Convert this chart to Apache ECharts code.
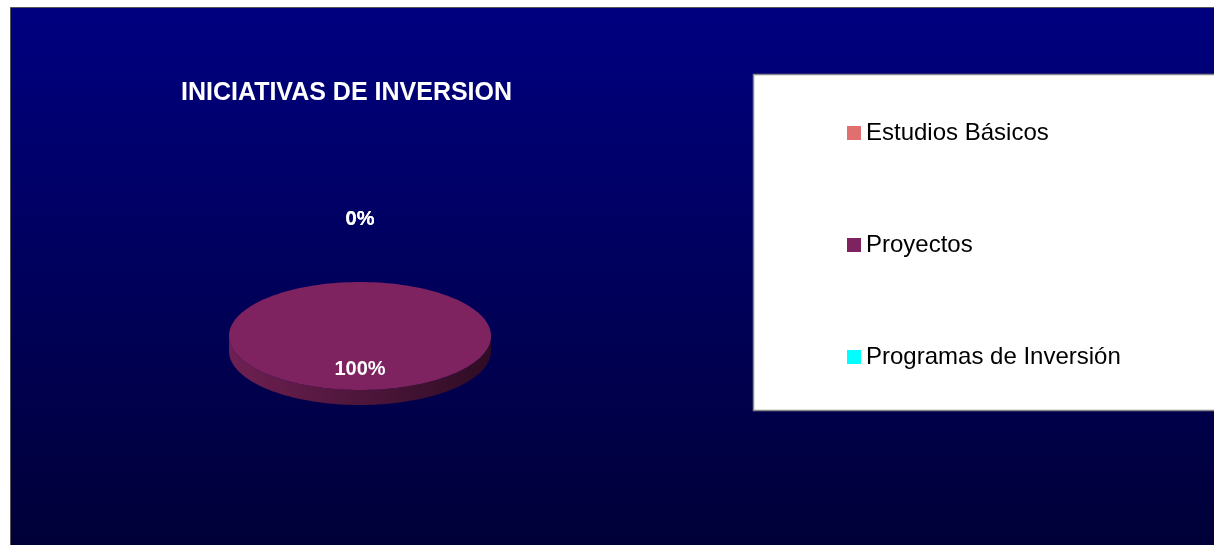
<!DOCTYPE html>
<html>
<head>
<meta charset="utf-8">
<script src="https://cdn.jsdelivr.net/npm/echarts@6/dist/echarts.min.js"></script>
<style>
  html, body { margin: 0; padding: 0; background: #fff; }
  #chart { width: 1214px; height: 545px; }
</style>
</head>
<body>
<div id="chart"></div>
<script>
// datos del gráfico
const categories = ['Estudios Básicos', 'Proyectos', 'Programas de Inversión'];
const values = [0, 100, 0];
const colors = ['#e07070', '#7f2360', '#00ffff'];
const sideColors = [
  ['#b05050', '#602020'],
  ['#6e2052', '#2e0c24'],
  ['#00c0c0', '#006060']
];

// geometría del pastel 3D
const cx = 360, cy = 336, rx = 131, ry = 54, depth = 15;

const total = values.reduce((a, b) => a + b, 0);

function pt(a, dy) {
  return [cx + rx * Math.sin(a), cy - ry * Math.cos(a) + (dy || 0)];
}

function arc(s, e, dy) {
  const pts = [];
  const n = Math.max(2, Math.ceil((e - s) / (Math.PI / 90)));
  for (let k = 0; k <= n; k++) pts.push(pt(s + (e - s) * k / n, dy));
  return pts;
}

function renderSlice(params, api) {
  const i = params.seriesIndex;
  const v = api.value(0);
  let before = 0;
  for (let j = 0; j < i; j++) before += values[j];
  const start = before / total * Math.PI * 2;
  const end = start + v / total * Math.PI * 2;
  const children = [];

  if (v > 0) {
    // lado frontal
    const s = Math.max(start, Math.PI / 2);
    const e = Math.min(end, Math.PI * 1.5);
    if (e > s) {
      const top = arc(s, e, 0);
      const bottom = arc(s, e, depth).reverse();
      children.push({
        type: 'polygon',
        shape: { points: top.concat(bottom) },
        style: {
          fill: new echarts.graphic.LinearGradient(0, 0, 1, 0, [
            { offset: 0, color: sideColors[i][0] },
            { offset: 1, color: sideColors[i][1] }
          ])
        }
      });
    }
    // cara superior
    let face = arc(start, end, 0);
    if (v < total) face = [[cx, cy]].concat(face);
    children.push({
      type: 'polygon',
      shape: { points: face },
      style: { fill: colors[i] }
    });
  }

  // etiqueta
  const share = v / total;
  const mid = (start + end) / 2;
  let lx, ly;
  if (share >= 0.1) {
    lx = cx + 0.6 * rx * Math.sin(mid);
    ly = cy - 0.6 * ry * Math.cos(mid);
  } else {
    lx = cx + (rx + 40) * Math.sin(mid);
    ly = cy - (ry + 64) * Math.cos(mid);
  }
  children.push({
    type: 'text',
    style: {
      text: Math.round(share * 100) + '%',
      x: lx, y: ly + 1,
      fill: '#ffffff',
      font: 'bold 20px Arial, "Liberation Sans", sans-serif',
      align: 'center',
      verticalAlign: 'middle'
    },
    z2: 10
  });

  return { type: 'group', children };
}

const chart = echarts.init(document.getElementById('chart'));

const option = {
  animation: false,
  graphic: [
    {
      type: 'rect',
      z: -10,
      shape: { x: 10.5, y: 7.5, width: 1204, height: 538 },
      style: {
        fill: new echarts.graphic.LinearGradient(0, 0, 0, 1, [
          { offset: 0, color: '#000080' },
          { offset: 1, color: '#000038' }
        ]),
        stroke: '#555',
        lineWidth: 1
      }
    },
    {
      type: 'rect',
      z: -9,
      shape: { x: 753.5, y: 74.5, width: 470, height: 336 },
      style: { fill: '#ffffff', stroke: '#888', lineWidth: 1.5 }
    }
  ],
  title: {
    text: 'INICIATIVAS DE INVERSION',
    left: 181,
    top: 81,
    padding: 0,
    textStyle: {
      color: '#ffffff',
      fontSize: 25,
      fontWeight: 'bold',
      fontFamily: 'Arial, "Liberation Sans", sans-serif'
    }
  },
  legend: {
    orient: 'vertical',
    left: 847,
    top: 121,
    padding: 0,
    itemWidth: 14,
    itemHeight: 14,
    itemGap: 88,
    icon: 'rect',
    data: categories,
    textStyle: {
      color: '#000000',
      fontSize: 24,
      lineHeight: 24,
      fontFamily: 'Arial, "Liberation Sans", sans-serif'
    }
  },
  series: categories.map((name, i) => ({
    type: 'custom',
    name: name,
    coordinateSystem: 'none',
    itemStyle: { color: colors[i] },
    renderItem: renderSlice,
    data: [[values[i]]]
  }))
};

chart.setOption(option);
</script>
</body>
</html>
